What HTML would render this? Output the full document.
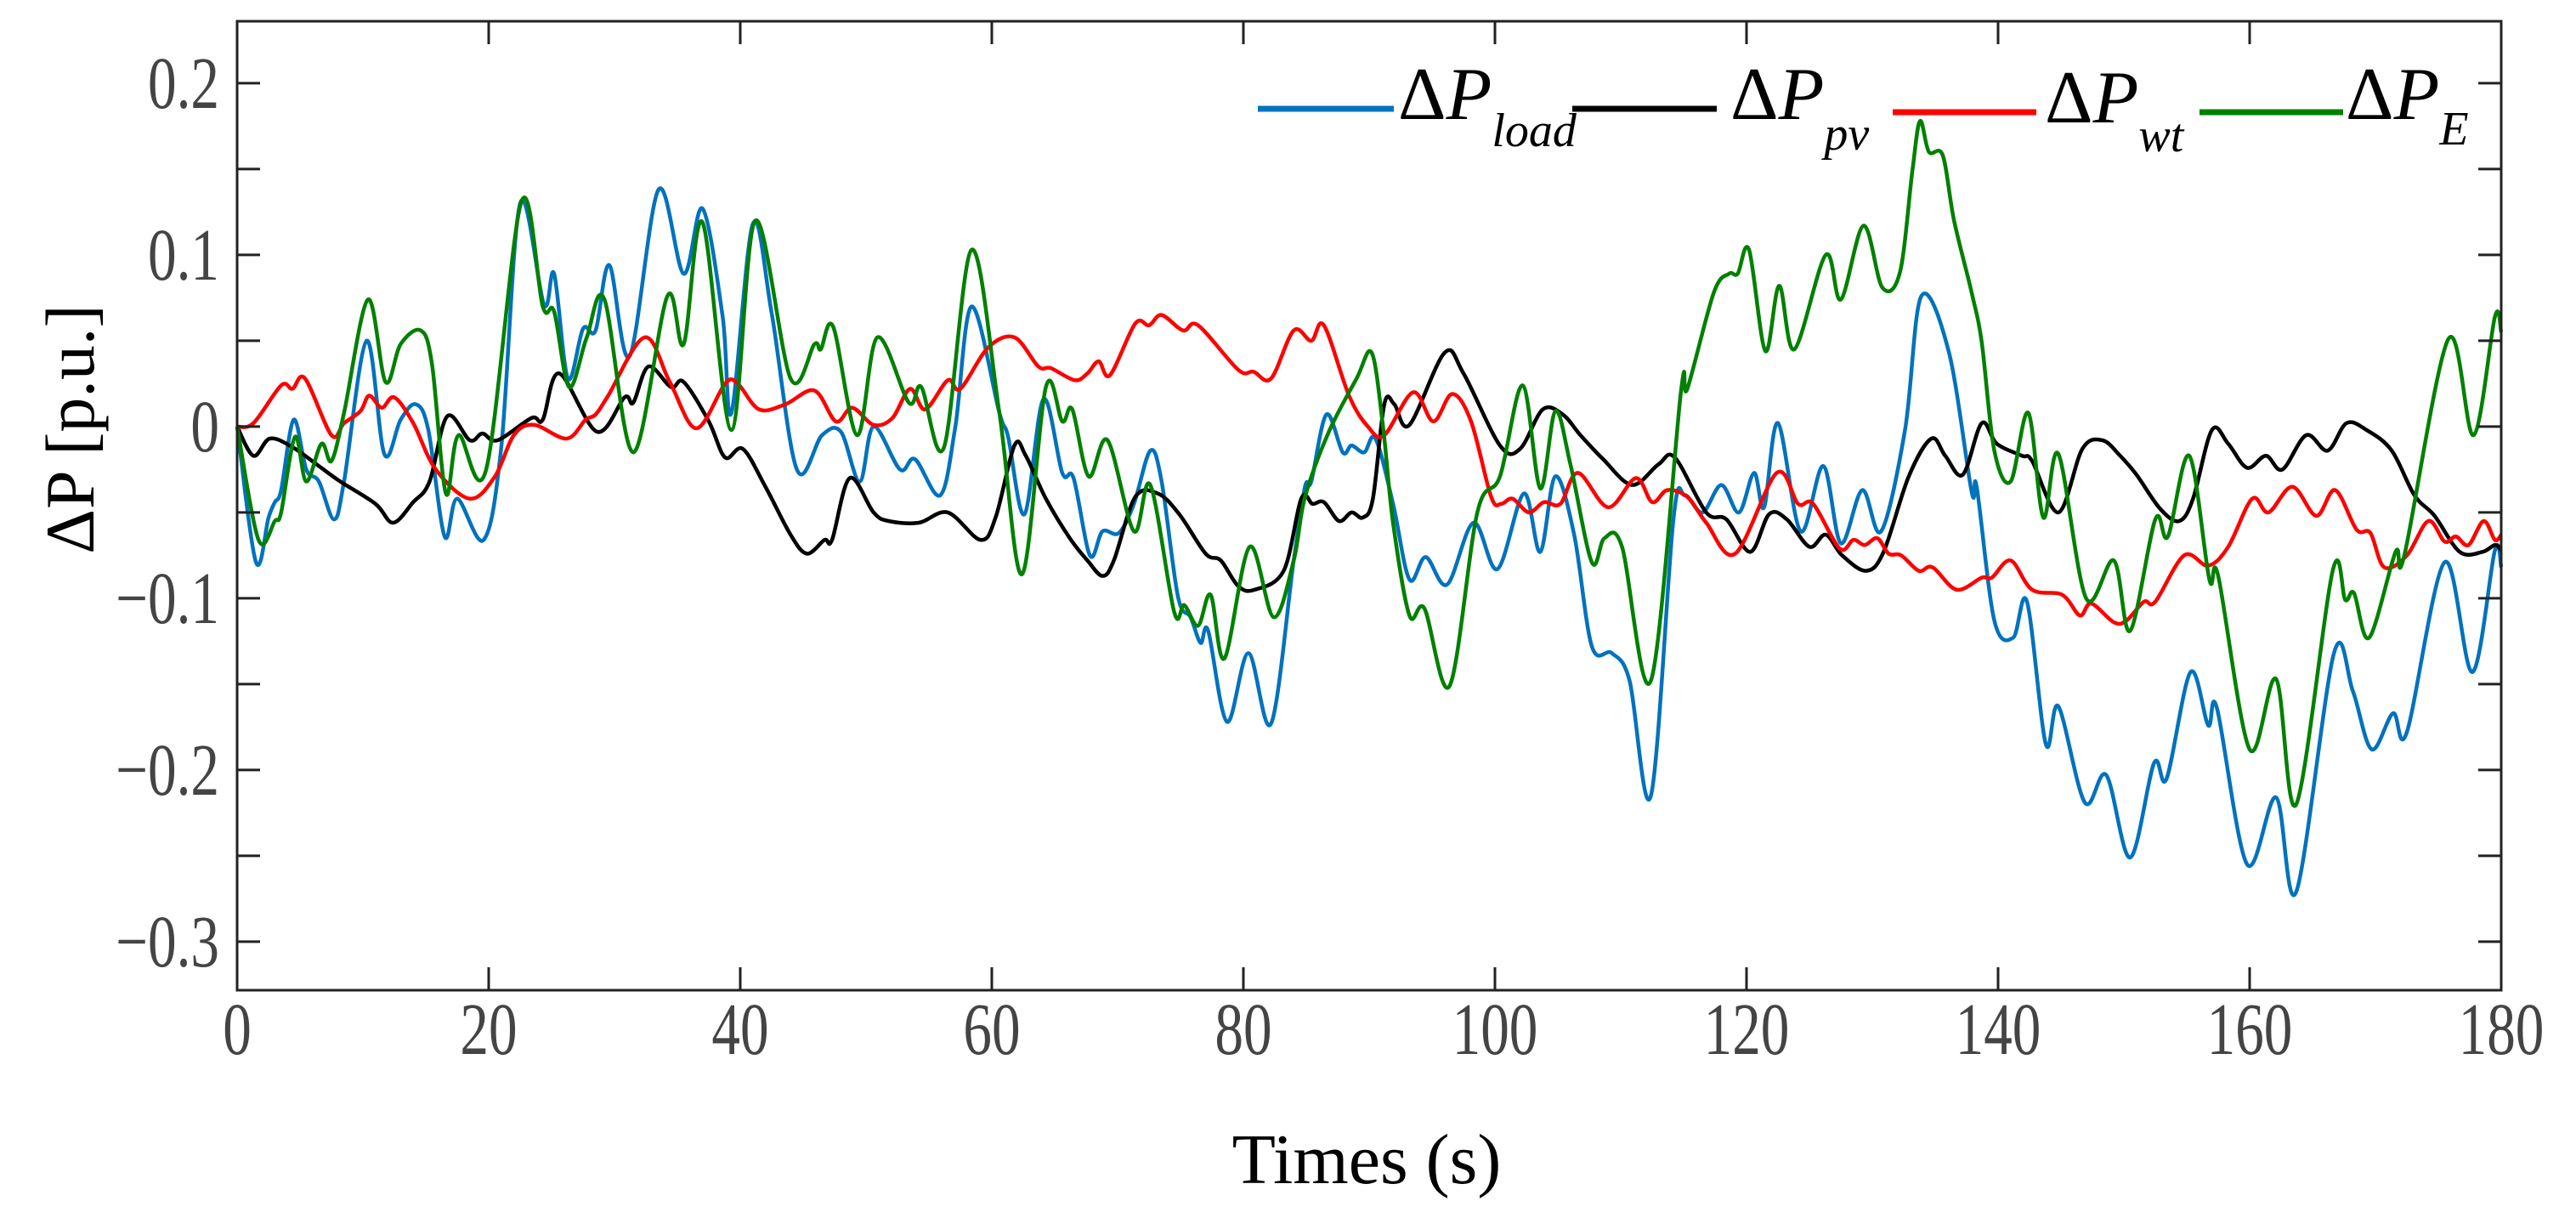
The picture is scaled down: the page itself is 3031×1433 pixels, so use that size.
<!DOCTYPE html>
<html><head><meta charset="utf-8">
<style>
html,body{margin:0;padding:0;background:#fff;}
svg{display:block;}
text{font-family:"Liberation Serif",serif;}
</style></head>
<body>
<svg id="chart" width="3031" height="1433" viewBox="0 0 3031 1433" xmlns="http://www.w3.org/2000/svg">
<rect x="0" y="0" width="3031" height="1433" fill="#fff"/>
<g id="series"></g>
<g id="axes"></g>
<text x="1608" y="1392" font-size="84" text-anchor="middle" fill="#000">Times (s)</text>
<text transform="translate(110,505) rotate(-90)" font-size="82" text-anchor="middle" fill="#000">ΔP [p.u.]</text>
<g id="legend">
  <line x1="1480" y1="128" x2="1640" y2="128" stroke="#0072BD" stroke-width="7"/>
  <text x="1645" y="140" font-size="88" fill="#000">Δ<tspan font-style="italic">P</tspan><tspan font-style="italic" font-size="56" dy="32">load</tspan></text>
  <line x1="1850" y1="128" x2="2020" y2="128" stroke="#000" stroke-width="7"/>
  <text x="2036" y="140" font-size="88" fill="#000">Δ<tspan font-style="italic">P</tspan><tspan font-style="italic" font-size="56" dy="36">pv</tspan></text>
  <line x1="2227" y1="132" x2="2396" y2="132" stroke="#FF0000" stroke-width="7"/>
  <text x="2406" y="144" font-size="88" fill="#000">Δ<tspan font-style="italic">P</tspan><tspan font-style="italic" font-size="56" dy="34">wt</tspan></text>
  <line x1="2588" y1="132" x2="2757" y2="132" stroke="#008000" stroke-width="7"/>
  <text x="2760" y="140" font-size="88" fill="#000">Δ<tspan font-style="italic">P</tspan><tspan font-style="italic" font-size="56" dy="30">E</tspan></text>
</g>
</svg>
<script>
const xTicks = [0,20,40,60,80,100,120,140,160,180];
const yTicks = [0.2,0.15,0.1,0.05,0,-0.05,-0.1,-0.15,-0.2,-0.25,-0.3];
const yLabels = ['0.2','','0.1','','0','','\u22120.1','','\u22120.2','','\u22120.3'];

const loadT = [0,1.5,2.5,3,3.5,4.5,5.5,6.5,7.7,8.5,10.3,11.7,13,14.2,15.2,16.5,17.5,19.6,21,22.5,24.4,25.2,26.3,27.5,28.5,29.6,31.2,33.5,35.5,37,38.6,39.3,41,42.5,44.5,46.5,48,49.5,50.6,52.7,53.9,55.9,57.1,58.4,60.6,61.3,62.6,64.1,65.6,66.5,67.8,68.8,70.1,71.3,72.6,73.5,74.8,75.8,76.6,77.2,78.7,80.4,82.2,84,84.9,85.4,86.6,87.9,88.6,89.6,90.5,91.9,93.2,94.5,96.2,98.3,100.2,102.3,103.6,104.8,106.3,107.7,109.3,110.7,112.4,114.2,115.1,116.5,118,119.4,120.6,121.4,122.5,124.3,126.1,127.5,129.2,130.7,132.6,133.9,136.1,137.9,138.3,139.7,141.2,142.3,143.8,144.8,146.9,148.6,150.5,152.4,153.4,155.3,156.7,157.4,159.8,162.1,163.7,166.7,168.2,169.7,171.4,172.5,175.5,177.7,179.5,180];
const loadV = [0,-0.079,-0.053,-0.044,-0.037,0.004,-0.025,-0.032,-0.054,-0.032,0.05,-0.016,0.004,0.013,-0.002,-0.064,-0.042,-0.066,-0.012,0.13,0.071,0.089,0.028,0.057,0.056,0.094,0.041,0.138,0.089,0.127,0.064,0.008,0.118,0.066,-0.025,-0.005,-0.003,-0.032,0,-0.025,-0.019,-0.04,0,0.07,0.008,-0.006,-0.051,0.016,-0.027,-0.03,-0.075,-0.061,-0.062,-0.045,-0.014,-0.032,-0.099,-0.111,-0.126,-0.119,-0.172,-0.132,-0.173,-0.078,-0.035,-0.032,0.007,-0.015,-0.011,-0.015,-0.007,-0.045,-0.089,-0.076,-0.092,-0.056,-0.083,-0.039,-0.073,-0.029,-0.063,-0.128,-0.132,-0.148,-0.215,-0.053,-0.04,-0.05,-0.034,-0.05,-0.027,-0.047,0.002,-0.061,-0.023,-0.068,-0.037,-0.061,-0.002,0.076,0.043,-0.038,-0.035,-0.113,-0.123,-0.102,-0.185,-0.163,-0.219,-0.203,-0.251,-0.196,-0.205,-0.143,-0.174,-0.164,-0.255,-0.216,-0.271,-0.132,-0.154,-0.188,-0.167,-0.178,-0.079,-0.143,-0.072,-0.082];

const pvT = [0,1.3,2.6,4.4,6.5,8.2,11,12.4,14,15.3,16.7,18.5,19.5,20.7,23.4,24.3,25.6,28.6,30.8,31.5,32.7,34.5,35.5,37.5,38.8,40.2,42,44,45.3,46.7,47.3,48.7,50.6,51.8,54.2,56.5,59.1,60.3,61.8,62.7,64.3,66.2,67.6,68.8,69.7,71.4,73.2,74.9,77,78.2,79.6,80.9,83.2,84.6,85.5,86.4,87.6,88.6,89.5,90.3,91.2,92,93.2,96,97.5,100.4,102,103.8,105.4,106.8,108.6,110.9,113,114.3,116.8,118.4,120.3,121.8,123.2,125,126.3,127.6,129.5,130.9,132.9,134.7,135.8,137.2,138.7,139.9,141.9,142.7,144.8,146.7,148.3,149.7,151,152.9,154.4,155.5,157,158.3,159.8,161.3,162.6,164.5,166.2,167.7,169.3,171.3,173.1,174.7,176.7,178.5,179.5,180];
const pvV = [0,-0.017,-0.007,-0.012,-0.023,-0.032,-0.045,-0.056,-0.044,-0.032,0.006,-0.008,-0.004,-0.008,0.005,0.004,0.031,-0.003,0.017,0.014,0.035,0.023,0.026,0.003,-0.018,-0.013,-0.035,-0.063,-0.074,-0.066,-0.066,-0.03,-0.05,-0.055,-0.056,-0.05,-0.066,-0.053,-0.011,-0.017,-0.042,-0.065,-0.078,-0.087,-0.078,-0.041,-0.039,-0.051,-0.074,-0.078,-0.093,-0.095,-0.084,-0.042,-0.045,-0.044,-0.055,-0.05,-0.053,-0.042,0.013,0.013,0.001,0.043,0.031,-0.011,-0.013,0.01,0.007,-0.005,-0.019,-0.034,-0.022,-0.018,-0.05,-0.054,-0.073,-0.051,-0.054,-0.07,-0.063,-0.075,-0.084,-0.073,-0.029,-0.007,-0.017,-0.028,0.002,-0.01,-0.017,-0.02,-0.05,-0.013,-0.008,-0.017,-0.028,-0.048,-0.055,-0.042,-0.002,-0.01,-0.024,-0.017,-0.025,-0.005,-0.014,0.002,-0.002,-0.014,-0.04,-0.052,-0.073,-0.073,-0.069,-0.072];

const wtT = [0,1.3,3.5,4.4,5.4,7.5,8.5,9.8,10.5,11.5,12.5,14,15.8,18.5,20.5,22,23.6,26.2,27.7,28.5,29.5,32.4,34.4,36.5,38.8,39.8,41.5,43.6,45.9,47.6,48.9,50.6,52.1,53.5,54.7,56.5,57.5,59.7,61.8,63.7,64.7,66.6,67.6,68.5,69.4,71.4,72.5,73.5,75.2,76.4,79.6,80.8,82.2,84,85.4,86.4,88.4,89.9,91.2,93.5,95.1,96.6,98.1,99.7,100.5,101.4,102.7,103.9,105.2,106.6,109,111.2,112.5,113.7,115.3,116.8,119.1,122.4,124.1,125.3,127.4,128.5,129.4,130.4,131.3,132.3,133.7,134.8,136.7,138.7,139.5,141,142.7,145.1,146.5,147.4,149.2,150.2,151.6,152.5,154.8,156.7,158.3,160.2,161.5,163.4,165.3,166.8,168.5,169.6,170.7,172.5,174.2,175.5,176.4,177.4,178.6,179.5,180];
const wtV = [0,0.002,0.024,0.022,0.028,-0.005,0.002,0.009,0.018,0.011,0.017,0.002,-0.025,-0.042,-0.029,-0.005,0.001,-0.007,0.004,0.007,0.018,0.052,0.026,-0.001,0.025,0.025,0.01,0.013,0.021,0.003,0.011,0.001,0.005,0.022,0.01,0.027,0.022,0.046,0.052,0.035,0.034,0.027,0.031,0.038,0.03,0.06,0.059,0.065,0.056,0.059,0.033,0.032,0.028,0.056,0.05,0.059,0.018,0,-0.005,0.02,0.003,0.019,0.003,-0.041,-0.045,-0.042,-0.05,-0.044,-0.045,-0.027,-0.047,-0.03,-0.044,-0.037,-0.041,-0.056,-0.074,-0.027,-0.045,-0.045,-0.071,-0.066,-0.069,-0.065,-0.074,-0.075,-0.084,-0.082,-0.095,-0.088,-0.088,-0.078,-0.095,-0.098,-0.11,-0.103,-0.114,-0.113,-0.102,-0.102,-0.075,-0.081,-0.07,-0.042,-0.05,-0.035,-0.052,-0.037,-0.06,-0.062,-0.082,-0.075,-0.055,-0.067,-0.064,-0.069,-0.055,-0.066,-0.063];

const eT = [0,1.7,3,3.5,4.6,5.5,6.7,7.5,8.5,10.4,11.8,13,14.6,15.5,16.6,17.6,19.8,22.6,24.3,25.2,26.4,27.8,29.2,31.5,34.2,35.5,37,39.3,41.2,44,45.9,46.4,47.4,49.3,50.9,53.4,54.4,56.2,58.4,60.6,62.4,64.3,65.6,66.4,67.7,69.2,71.3,72.6,74.5,75.3,76.4,77.4,78.5,80.5,82.4,84,84.9,86.8,89,90.2,91.1,91.9,93.2,94.4,96.4,98.6,100.4,102.2,103.6,104.8,106,107.7,108.7,110.1,112.4,114.8,115.3,117.4,118.6,119.3,120.2,121.5,122.6,123.8,126.3,127.5,129.3,130.8,132.2,133.2,133.8,134.5,135.6,136.5,137.9,138.7,139.7,141,142.4,143.6,144.8,147,149.2,150.5,152.5,153.5,155.2,156.8,157.5,160,162.1,163.7,166.6,167.6,168.3,169.5,171.6,172.3,175.8,177.8,179.5,180];
const eV = [0,-0.066,-0.055,-0.05,-0.006,-0.032,-0.01,-0.02,0.008,0.074,0.026,0.048,0.056,0.036,-0.039,-0.005,-0.025,0.131,0.07,0.067,0.023,0.052,0.074,-0.015,0.076,0.048,0.119,-0.002,0.12,0.028,0.048,0.045,0.058,-0.005,0.052,0.014,0.023,-0.012,0.103,0.008,-0.086,0.023,0.003,0.01,-0.029,-0.008,-0.061,-0.034,-0.108,-0.104,-0.116,-0.098,-0.135,-0.07,-0.111,-0.078,-0.041,-0.003,0.028,0.043,0,-0.056,-0.11,-0.106,-0.151,-0.05,-0.029,0.024,-0.036,0.009,-0.022,-0.079,-0.065,-0.07,-0.148,0.021,0.022,0.078,0.089,0.089,0.103,0.044,0.082,0.045,0.1,0.074,0.117,0.081,0.09,0.15,0.178,0.16,0.158,0.12,0.078,0.049,-0.014,-0.032,0.008,-0.053,-0.016,-0.1,-0.078,-0.119,-0.054,-0.064,-0.017,-0.089,-0.087,-0.188,-0.147,-0.22,-0.084,-0.101,-0.097,-0.123,-0.073,-0.075,0.051,-0.005,0.064,0.055];

const X0=279, X1=2943, Y0=25, Y1=1165;
const xMin=0, xMax=180, yTop=0.2361, yBot=-0.3283;
function sx(t){return X0+(t-xMin)/(xMax-xMin)*(X1-X0);}
function sy(v){return Y0+(yTop-v)/(yTop-yBot)*(Y1-Y0);}
const NS='http://www.w3.org/2000/svg';

function smoothPath(T,V){
  const p=T.map((t,i)=>[sx(t),sy(V[i])]);
  let d='M'+p[0][0].toFixed(1)+','+p[0][1].toFixed(1);
  for(let i=0;i<p.length-1;i++){
    const p0=p[Math.max(0,i-1)],p1=p[i],p2=p[i+1],p3=p[Math.min(p.length-1,i+2)];
    const c1=[p1[0]+(p2[0]-p0[0])/6,p1[1]+(p2[1]-p0[1])/6];
    const c2=[p2[0]-(p3[0]-p1[0])/6,p2[1]-(p3[1]-p1[1])/6];
    d+='C'+c1[0].toFixed(1)+','+c1[1].toFixed(1)+' '+c2[0].toFixed(1)+','+c2[1].toFixed(1)+' '+p2[0].toFixed(1)+','+p2[1].toFixed(1);
  }
  return d;
}
const sg=document.getElementById('series');
function addSeries(T,V,color,name){
  const path=document.createElementNS(NS,'path');
  path.setAttribute('d',smoothPath(T,V));
  path.setAttribute('fill','none');
  path.setAttribute('stroke',color);
  path.setAttribute('stroke-width','4.5');
  path.setAttribute('stroke-linejoin','round');
  
  
  sg.appendChild(path);
}
addSeries(loadT,loadV,'#0072BD','series-load-line');
addSeries(pvT,pvV,'#000000','series-pv-line');
addSeries(wtT,wtV,'#FF0000','series-wt-line');
addSeries(eT,eV,'#008000','series-e-line');

const ax=document.getElementById('axes');
function line(x1,y1,x2,y2,w){
  const l=document.createElementNS(NS,'line');
  l.setAttribute('x1',x1);l.setAttribute('y1',y1);l.setAttribute('x2',x2);l.setAttribute('y2',y2);
  l.setAttribute('stroke','#222');l.setAttribute('stroke-width',w);
  
  
  ax.appendChild(l);
}
const box=document.createElementNS(NS,'rect');
box.setAttribute('x',X0);box.setAttribute('y',Y0);box.setAttribute('width',X1-X0);box.setAttribute('height',Y1-Y0);
box.setAttribute('fill','none');box.setAttribute('stroke','#222');box.setAttribute('stroke-width','3');


ax.appendChild(box);
xTicks.forEach(t=>{
  const x=sx(t);
  line(x,Y1,x,Y1-27,3);line(x,Y0,x,Y0+27,3);
  const tx=document.createElementNS(NS,'text');
  tx.setAttribute('transform','translate('+x+',1240) scale(0.8,1.04)');
  tx.setAttribute('font-size','84');
  tx.setAttribute('text-anchor','middle');tx.setAttribute('fill','#444');
  
  
  tx.textContent=String(t);ax.appendChild(tx);
});
yTicks.forEach((v,i)=>{
  const y=sy(v);
  line(X0,y,X0+27,y,3);line(X1,y,X1-27,y,3);
  if(yLabels[i]){
    const tx=document.createElementNS(NS,'text');
    tx.setAttribute('transform','translate(258,'+(y+29)+') scale(0.8,1.04)');
    tx.setAttribute('font-size','84');
    tx.setAttribute('text-anchor','end');tx.setAttribute('fill','#444');
    
    
    tx.textContent=yLabels[i];ax.appendChild(tx);
  }
});
</script>
</body></html>
